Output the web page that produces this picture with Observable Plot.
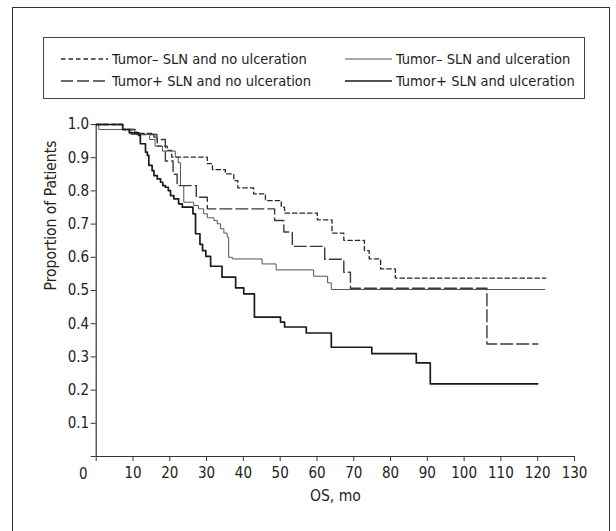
<!DOCTYPE html>
<html><head><meta charset="utf-8">
<script src="https://cdn.jsdelivr.net/npm/d3@7"></script>
<script src="https://cdn.jsdelivr.net/npm/@observablehq/plot@0.6"></script>
<style>
body{margin:0;background:#fff;width:616px;height:531px;overflow:hidden;position:relative;font-family:"Liberation Sans Narrow","Arial Narrow","DejaVu Sans Condensed",sans-serif;color:#222;}
#frame{position:absolute;left:12px;top:7px;width:598px;height:560px;border:1.5px solid #333;box-sizing:border-box;}
#legend{position:absolute;left:43px;top:37px;width:542px;height:62px;border:1px solid #444;box-sizing:border-box;}
.item{position:absolute;height:20px;display:flex;align-items:center;font-size:14.5px;color:#222;white-space:nowrap;}
.item svg{margin-right:4px;}
#chart{position:absolute;left:0;top:0;}
</style></head><body>
<div id="frame"></div>
<div id="chart"></div>
<div id="legend"></div>
<script>
// Series names
const seriesNames = [
  "Tumor\u2013 SLN and no ulceration",
  "Tumor+ SLN and no ulceration",
  "Tumor\u2013 SLN and ulceration",
  "Tumor+ SLN and ulceration"
];
// Tumor– SLN and no ulceration
const tA = [0, 7.2, 10.5, 15.7, 16.6, 19.3, 20.5, 30.2, 31.6, 35.1, 37.4, 38.5, 42.8, 46.0, 50.3, 51.2, 60.1, 64.1, 67.3, 72.9, 74.2, 77.3, 81.3, 122.2];
const sA = [1.0, 0.985, 0.973, 0.962, 0.935, 0.922, 0.902, 0.882, 0.864, 0.851, 0.831, 0.809, 0.791, 0.771, 0.751, 0.733, 0.713, 0.673, 0.651, 0.62, 0.595, 0.565, 0.537, 0.537];
// Tumor+ SLN and no ulceration
const tB = [0, 7.2, 11.0, 16.5, 18.8, 20.9, 22.0, 27.2, 30.2, 48.5, 51.0, 53.3, 62.1, 67.3, 69.1, 106.2, 120.0];
const sB = [1.0, 0.985, 0.970, 0.955, 0.890, 0.850, 0.816, 0.781, 0.746, 0.711, 0.676, 0.633, 0.594, 0.555, 0.507, 0.339, 0.339];
// Tumor– SLN and ulceration
const tC = [0, 0.7, 9.5, 14.5, 16.0, 18.0, 21.5, 22.3, 22.9, 23.8, 26.5, 27.8, 29.2, 30.2, 32.0, 32.9, 33.8, 34.7, 35.6, 36.0, 37.0, 45.1, 48.9, 59.1, 62.9, 63.9, 122.0];
const sC = [1.0, 0.985, 0.970, 0.955, 0.935, 0.920, 0.902, 0.885, 0.816, 0.766, 0.756, 0.746, 0.731, 0.719, 0.711, 0.701, 0.686, 0.673, 0.661, 0.600, 0.595, 0.580, 0.562, 0.543, 0.523, 0.503, 0.503];
// Tumor+ SLN and ulceration
const tD = [0, 7.2, 9.0, 11.6, 12.0, 13.4, 13.9, 14.3, 15.2, 15.7, 16.6, 17.5, 18.1, 18.8, 19.6, 20.2, 21.1, 22.4, 23.4, 26.3, 27.0, 28.2, 28.9, 29.8, 31.1, 34.2, 37.9, 40.1, 43.0, 50.1, 51.2, 57.1, 63.9, 74.9, 87.0, 90.8, 120.0];
const sD = [1.0, 0.985, 0.975, 0.967, 0.942, 0.917, 0.907, 0.877, 0.861, 0.846, 0.836, 0.826, 0.816, 0.811, 0.801, 0.786, 0.776, 0.761, 0.751, 0.731, 0.671, 0.639, 0.620, 0.603, 0.573, 0.540, 0.508, 0.490, 0.420, 0.405, 0.390, 0.372, 0.329, 0.310, 0.282, 0.219, 0.219];
// Tick values
const xTicks = [0, 10, 20, 30, 40, 50, 60, 70, 80, 90, 100, 110, 120, 130];
const yTicks = [0, 0.1, 0.2, 0.3, 0.4, 0.5, 0.6, 0.7, 0.8, 0.9, 1.0];

const mk = (t, s) => t.map((d, i) => ({t: d, s: s[i]}));
const datasets = [mk(tA, sA), mk(tB, sB), mk(tC, sC), mk(tD, sD)];

const styles = [
  {stroke: "#2a2a2a", strokeWidth: 1.3, dash: "4.5,3"},
  {stroke: "#3a3a3a", strokeWidth: 1.4, dash: "12,4"},
  {stroke: "#555", strokeWidth: 1.0, dash: null},
  {stroke: "#1a1a1a", strokeWidth: 1.7, dash: null}
];
const font = '"Liberation Sans Narrow","Arial Narrow","DejaVu Sans Condensed",sans-serif';

const plot = Plot.plot({
  width: 616, height: 531,
  marginLeft: 95.7, marginRight: 42, marginTop: 124, marginBottom: 75,
  style: {fontFamily: font, color: "#222", background: "transparent"},
  x: {domain: [0, 130]},
  y: {domain: [0, 1]},
  marks: [
    Plot.axisX({ticks: xTicks, tickSize: 5, tickPadding: 6, fontSize: 15, tickFormat: d => d === 0 ? "" : String(d), label: null, stroke: "#333"}),
    Plot.axisY({ticks: yTicks, tickSize: 5, tickPadding: 2, fontSize: 15, tickFormat: d => d < 0.05 ? "" : d.toFixed(1), label: null, stroke: "#333"}),
    Plot.text(["0"], {x: 0, y: 0, dx: -13, dy: 18, text: d => d, fontSize: 15, fill: "#222"}),
    Plot.ruleX([0], {stroke: "#333", strokeWidth: 1.2}),
    Plot.ruleY([0], {stroke: "#333", strokeWidth: 1.2}),
    ...datasets.map((ds, i) => Plot.line(ds, {x: "t", y: "s", curve: "step-after", stroke: styles[i].stroke, strokeWidth: styles[i].strokeWidth, strokeDasharray: styles[i].dash})),
    Plot.text(["Proportion of Patients"], {frameAnchor: "left", dx: -45, rotate: -90, text: d => d, fontSize: 15.5, fill: "#222"}),
    Plot.text(["OS, mo"], {frameAnchor: "bottom", dy: 44, text: d => d, fontSize: 15.5, fill: "#222"})
  ]
});
document.getElementById("chart").appendChild(plot);

// Legend
const legend = document.getElementById("legend");
const pos = [
  {left: 17, top: 11}, {left: 17, top: 33}, {left: 301, top: 11}, {left: 301, top: 33}
];
[0, 1, 2, 3].forEach(i => {
  const div = document.createElement("div");
  div.className = "item";
  div.style.left = pos[i].left + "px";
  div.style.top = pos[i].top + "px";
  const w = 47;
  const s = styles[i];
  div.innerHTML = `<svg width="${w}" height="10"><line x1="0" x2="${w}" y1="5" y2="5" stroke="${s.stroke}" stroke-width="${s.strokeWidth}" ${s.dash ? `stroke-dasharray="${s.dash}"` : ""}/></svg><span>${seriesNames[i]}</span>`;
  legend.appendChild(div);
});
</script>
</body></html>
